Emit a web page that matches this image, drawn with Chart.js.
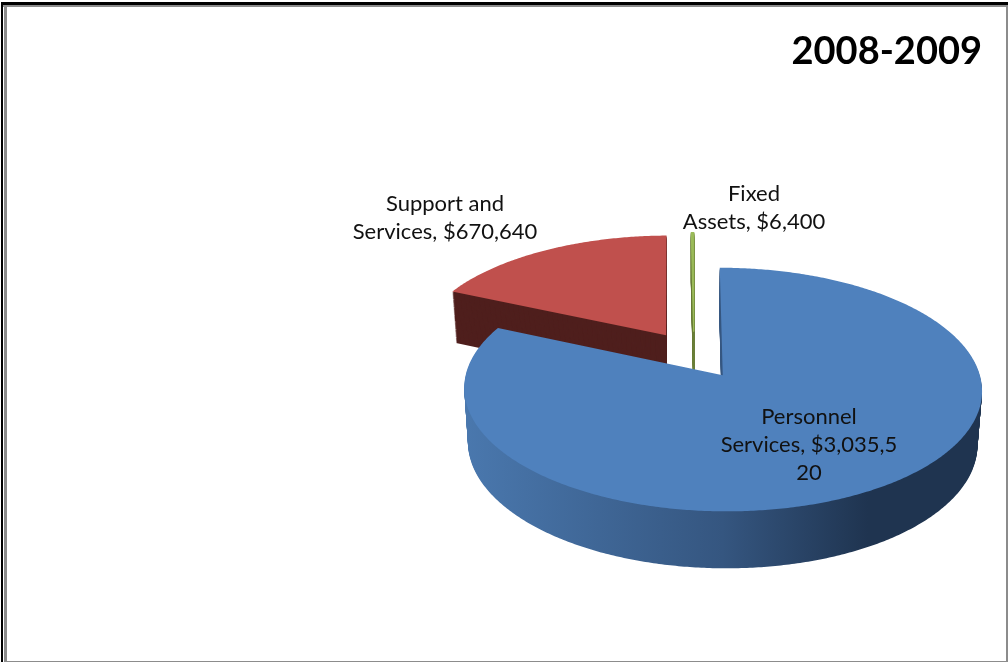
<!DOCTYPE html>
<html lang="en">
<head>
    <meta charset="UTF-8">
    <title>2008-2009</title>
    <script src="https://cdn.jsdelivr.net/npm/chart.js"></script>
    <style>
        html, body { margin: 0; padding: 0; background: #fff; }
        canvas { display: block; }
    </style>
</head>
<body>
    <canvas id="pie" width="1008" height="662"></canvas>
</body>

<script>

// data
const titleText = '2008-2009';
const categories = ['Personnel Services', 'Support and Services', 'Fixed Assets'];
const amounts = [3035520, 670640, 6400];

// label lines, wrapped the same way as the picture
const labelLines = [
    ['Personnel', 'Services, $3,035,5', '20'],
    ['Support and', 'Services, $670,640'],
    ['Fixed', 'Assets, $6,400']
];

// colours
const topColors = ['#4f81bd', '#c0504d', '#9bbb59'];
const sideColors = ['#3a5c86', '#4f1f1d', '#6b7f3a'];

// label anchor: centre x, y of first line
const labelAnchors = [[809, 417], [445, 204], [754, 194]];
const labelLineHeight = 28;

// 3D look
const TILT = 0.458;     // y squash of the pie plane
const PERSP = 2200;     // perspective distance
const DEPTH = 53;       // height of the pie wall
const SHRINK = 0.0003;  // lower edge of the wall is a bit narrower

// ground plane point -> screen
const project = (cx, cy, u, v, z) => {
    const p = 1 / (1 - v / PERSP);
    return [cx + u * p * (1 - z * SHRINK), cy + v * TILT * p + z * Math.sqrt(p)];
};

// one slice outline from the arc element made by chart.js
const tracePath = (ctx, arc, z) => {
    const {x, y, startAngle, endAngle, outerRadius} = arc.getProps(['x', 'y', 'startAngle', 'endAngle', 'outerRadius']);
    const mid = (startAngle + endAngle) / 2;
    const ox = Math.cos(mid) * arc.options.offset;
    const oy = Math.sin(mid) * arc.options.offset;
    ctx.beginPath();
    let pt = project(x, y, ox, oy, z);
    ctx.moveTo(pt[0], pt[1]);
    const steps = Math.max(2, Math.ceil((endAngle - startAngle) / 0.01));
    for (let i = 0; i <= steps; i++) {
        const a = startAngle + (endAngle - startAngle) * i / steps;
        pt = project(x, y, ox + Math.cos(a) * outerRadius, oy + Math.sin(a) * outerRadius, z);
        ctx.lineTo(pt[0], pt[1]);
    }
    ctx.closePath();
};

const pie3d = {
    id: 'pie3d',
    beforeDraw(chart) {
        // picture frame
        const ctx = chart.ctx;
        ctx.save();
        ctx.fillStyle = '#fff';
        ctx.fillRect(0, 0, 1008, 662);
        ctx.fillStyle = '#000';
        ctx.fillRect(1, 2, 1007, 3);
        ctx.fillRect(1, 2, 2, 660);
        ctx.fillStyle = '#8c8c8c';
        ctx.fillRect(3, 5, 1005, 2);
        ctx.fillRect(4, 5, 3, 657);
        ctx.fillRect(7, 661, 1001, 1);
        ctx.fillRect(1006, 5, 2, 657);
        ctx.restore();
    },
    beforeDatasetDraw(chart, args) {
        const ctx = chart.ctx;
        const arcs = args.meta.data;
        ctx.save();
        ctx.lineWidth = 1.2;
        // back slices first, the big one goes on top
        [2, 1, 0].forEach((i) => {
            const arc = arcs[i];
            let side = sideColors[i];
            if (i === 0) {
                const g = ctx.createLinearGradient(463, 0, 982, 0);
                g.addColorStop(0, '#4a78ae');
                g.addColorStop(0.5, '#355680');
                g.addColorStop(0.78, '#1f3450');
                g.addColorStop(1, '#1f3450');
                side = g;
            }
            ctx.fillStyle = side;
            ctx.strokeStyle = side;
            for (let z = DEPTH; z > 0; z -= 1) {
                tracePath(ctx, arc, z);
                ctx.fill();
                // the tiny slice is hardly a pixel wide without an outline
                if (i === 2) ctx.stroke();
            }
            ctx.fillStyle = topColors[i];
            ctx.strokeStyle = topColors[i];
            tracePath(ctx, arc, 0);
            ctx.fill();
            if (i === 2) ctx.stroke();
        });
        ctx.restore();
        return false;
    },
    afterDatasetsDraw(chart) {
        const ctx = chart.ctx;
        ctx.save();
        ctx.font = '22px Lato';
        ctx.textAlign = 'center';
        ctx.textBaseline = 'middle';
        ctx.fillStyle = '#111';
        labelLines.forEach((lines, i) => {
            lines.forEach((line, j) => {
                ctx.fillText(line, labelAnchors[i][0], labelAnchors[i][1] + j * labelLineHeight);
            });
        });
        ctx.restore();
    }
};

new Chart(document.getElementById('pie'), {
    type: 'pie',
    data: {
        labels: categories,
        datasets: [{
            data: amounts,
            backgroundColor: topColors,
            borderWidth: 0,
            offset: 52,
            radius: 252
        }]
    },
    options: {
        responsive: false,
        animation: false,
        layout: { padding: { left: 406, right: 26, top: 31, bottom: 25 } },
        plugins: {
            legend: { display: false },
            tooltip: { enabled: false },
            title: {
                display: true,
                text: titleText,
                align: 'end',
                color: '#000',
                font: { family: 'Lato', size: 38, weight: 'bold', lineHeight: 1.1 },
                padding: 0
            }
        }
    },
    plugins: [pie3d]
});

</script>
</html>
